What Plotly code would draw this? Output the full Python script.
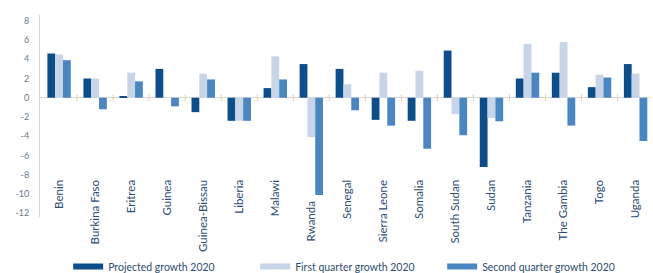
import plotly.graph_objects as go

countries = ["Benin", "Burkina Faso", "Eritrea", "Guinea", "Guinea-Bissau", "Liberia",
             "Malawi", "Rwanda", "Senegal", "Sierra Leone", "Somalia", "South Sudan",
             "Sudan", "Tanzania", "The Gambia", "Togo", "Uganda"]
projected_2020 = [4.6, 2.0, 0.1, 3.0, -1.5, -2.4, 1.0, 3.5, 3.0, -2.3, -2.4, 4.9,
                  -7.2, 2.0, 2.6, 1.1, 3.5]
q1_2020 = [4.5, 2.0, 2.6, 0.0, 2.5, -2.4, 4.3, -4.1, 1.4, 2.6, 2.8, -1.7,
           -2.1, 5.6, 5.8, 2.4, 2.5]
q2_2020 = [3.9, -1.2, 1.7, -0.9, 1.9, -2.4, 1.9, -10.1, -1.3, -2.9, -5.3, -3.9,
           -2.45, 2.6, -2.9, 2.1, -4.5]
y_ticks = [8, 6, 4, 2, 0, -2, -4, -6, -8, -10, -12]

series = [
    ("Projected growth 2020", projected_2020, "#0c4d8a"),
    ("First quarter growth 2020", q1_2020, "#c8d5e8"),
    ("Second quarter growth 2020", q2_2020, "#4a86c0"),
]

Y_MIN, Y_MAX = -12.4, 8.6
X_RANGE = [-0.53, 16.4]
LABEL_FONT = dict(family="Lato", size=11.5, color="#2e4d72")

idx = list(range(len(countries)))
fig = go.Figure()
for name, vals, col in series:
    fig.add_trace(go.Bar(x=idx, y=vals, name=name, marker_color=col,
                         marker_line_width=0, showlegend=False, legendgroup=name))
    fig.add_trace(go.Scatter(x=[None], y=[None], mode="lines", name=name,
                             legendgroup=name, line=dict(color=col, width=6)))

fig.add_trace(go.Scatter(x=[i + 0.5 for i in idx[:-1]], y=[0] * (len(idx) - 1),
                         mode="markers", showlegend=False, hoverinfo="skip",
                         marker=dict(symbol="line-ns-open", size=5, color="#e6cfa8",
                                     line=dict(color="#e6cfa8", width=1))))

levels = {}
for i in idx:
    low = min(projected_2020[i], q1_2020[i], q2_2020[i])
    lvl = round(min(-8.2, low - 0.3), 2)
    levels.setdefault(lvl, []).append(i)

for k, (lvl, members) in enumerate(sorted(levels.items(), reverse=True)):
    ax_id = "x%d" % (k + 2)
    fig.add_trace(go.Scatter(x=members, y=[None] * len(members), mode="markers",
                             xaxis=ax_id, yaxis="y", showlegend=False,
                             hoverinfo="skip"))
    fig.layout["xaxis%d" % (k + 2)] = dict(
        overlaying="x", anchor="free",
        position=(lvl - Y_MIN) / (Y_MAX - Y_MIN),
        range=X_RANGE, showgrid=False, zeroline=False, showline=False,
        ticks="", ticklen=0, tickangle=-90, automargin=False,
        tickvals=members, ticktext=[countries[m] for m in members],
        tickfont=LABEL_FONT,
    )

fig.update_layout(
    width=653, height=273,
    margin=dict(l=40, r=3, t=15, b=56, autoexpand=False),
    paper_bgcolor="white", plot_bgcolor="white",
    barmode="group", bargap=0.35, bargroupgap=0,
    showlegend=True,
    legend=dict(orientation="h", x=0.506, xanchor="center", y=-0.245, yanchor="middle",
                font=dict(family="Lato", size=10.5, color="#2e4d72"),
                entrywidth=142, traceorder="normal"),
    font=dict(family="Lato"),
)
fig.layout.xaxis.update(range=X_RANGE, showticklabels=False, showgrid=False,
                        zeroline=False, showline=False, ticks="", automargin=False)
fig.update_yaxes(range=[Y_MIN, Y_MAX], tickvals=y_ticks,
                 ticktext=[str(v) for v in y_ticks], showgrid=False,
                 zeroline=True, zerolinecolor="#d8d8d8", zerolinewidth=1,
                 showline=True, linecolor="#d6d6d6", linewidth=1,
                 ticks="", ticklabelstandoff=8, automargin=False,
                 tickfont=dict(family="Lato", size=9, color="#6a7c90"))

fig.write_html("out.html", config={"displayModeBar": False},
               post_script="document.body.style.margin='0';document.body.style.overflow='hidden';")
